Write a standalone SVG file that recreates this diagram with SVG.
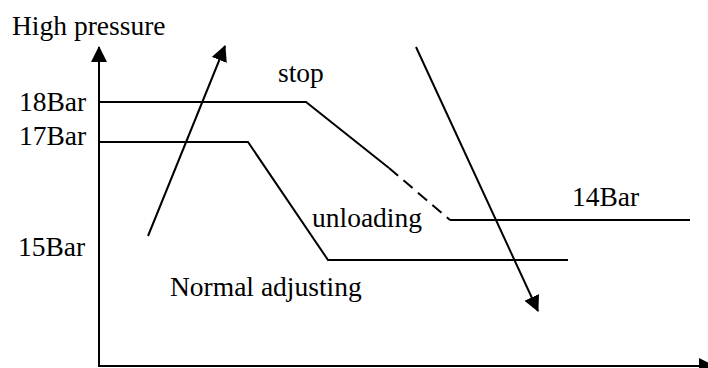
<svg xmlns="http://www.w3.org/2000/svg" width="708" height="368" viewBox="0 0 708 368">
<style>
.t{font-family:'Liberation Serif','Times New Roman',serif;font-size:27.5px;fill:#000}
.l{stroke:#000;stroke-width:2;fill:none}
</style>
<defs>
<marker id="ah2" markerWidth="16" markerHeight="16" refX="15" refY="8" orient="auto" markerUnits="userSpaceOnUse" viewBox="0 0 16 16">
<path d="M0,0 L16,8 L0,16 Z" fill="#000"/>
</marker>
</defs>
<rect width="708" height="368" fill="#fff"/>
<g id="labels" class="t" font-family="'Liberation Serif', 'Times New Roman', serif" font-size="27.5">
<text x="12" y="35">High pressure</text>
<text x="19" y="111">18Bar</text>
<text x="19" y="145">17Bar</text>
<text x="18" y="256">15Bar</text>
<text x="278" y="82">stop</text>
<text x="312" y="227">unloading</text>
<text x="572" y="206">14Bar</text>
<text x="170" y="296">Normal adjusting</text>
</g>
<g id="connectors">
<line id="yaxis" class="l" x1="99" y1="367" x2="99" y2="47" marker-end="url(#ah2)"/>
<line id="xaxis" class="l" x1="98" y1="366" x2="714" y2="366" marker-end="url(#ah2)"/>
<polyline id="line18" class="l" points="100,102 306,102 389,168"/>
<line id="line18dash" class="l" x1="389" y1="168" x2="450" y2="220" stroke-dasharray="12,7"/>
<line id="line14" class="l" x1="450" y1="220" x2="690" y2="220"/>
<polyline id="line17" class="l" points="100,142 248,142 328,260 568,260"/>
<line id="uparrow" class="l" x1="148" y1="236" x2="225" y2="46" marker-end="url(#ah2)"/>
<line id="downarrow" class="l" x1="416" y1="47" x2="538" y2="311" marker-end="url(#ah2)"/>
</g>
</svg>
